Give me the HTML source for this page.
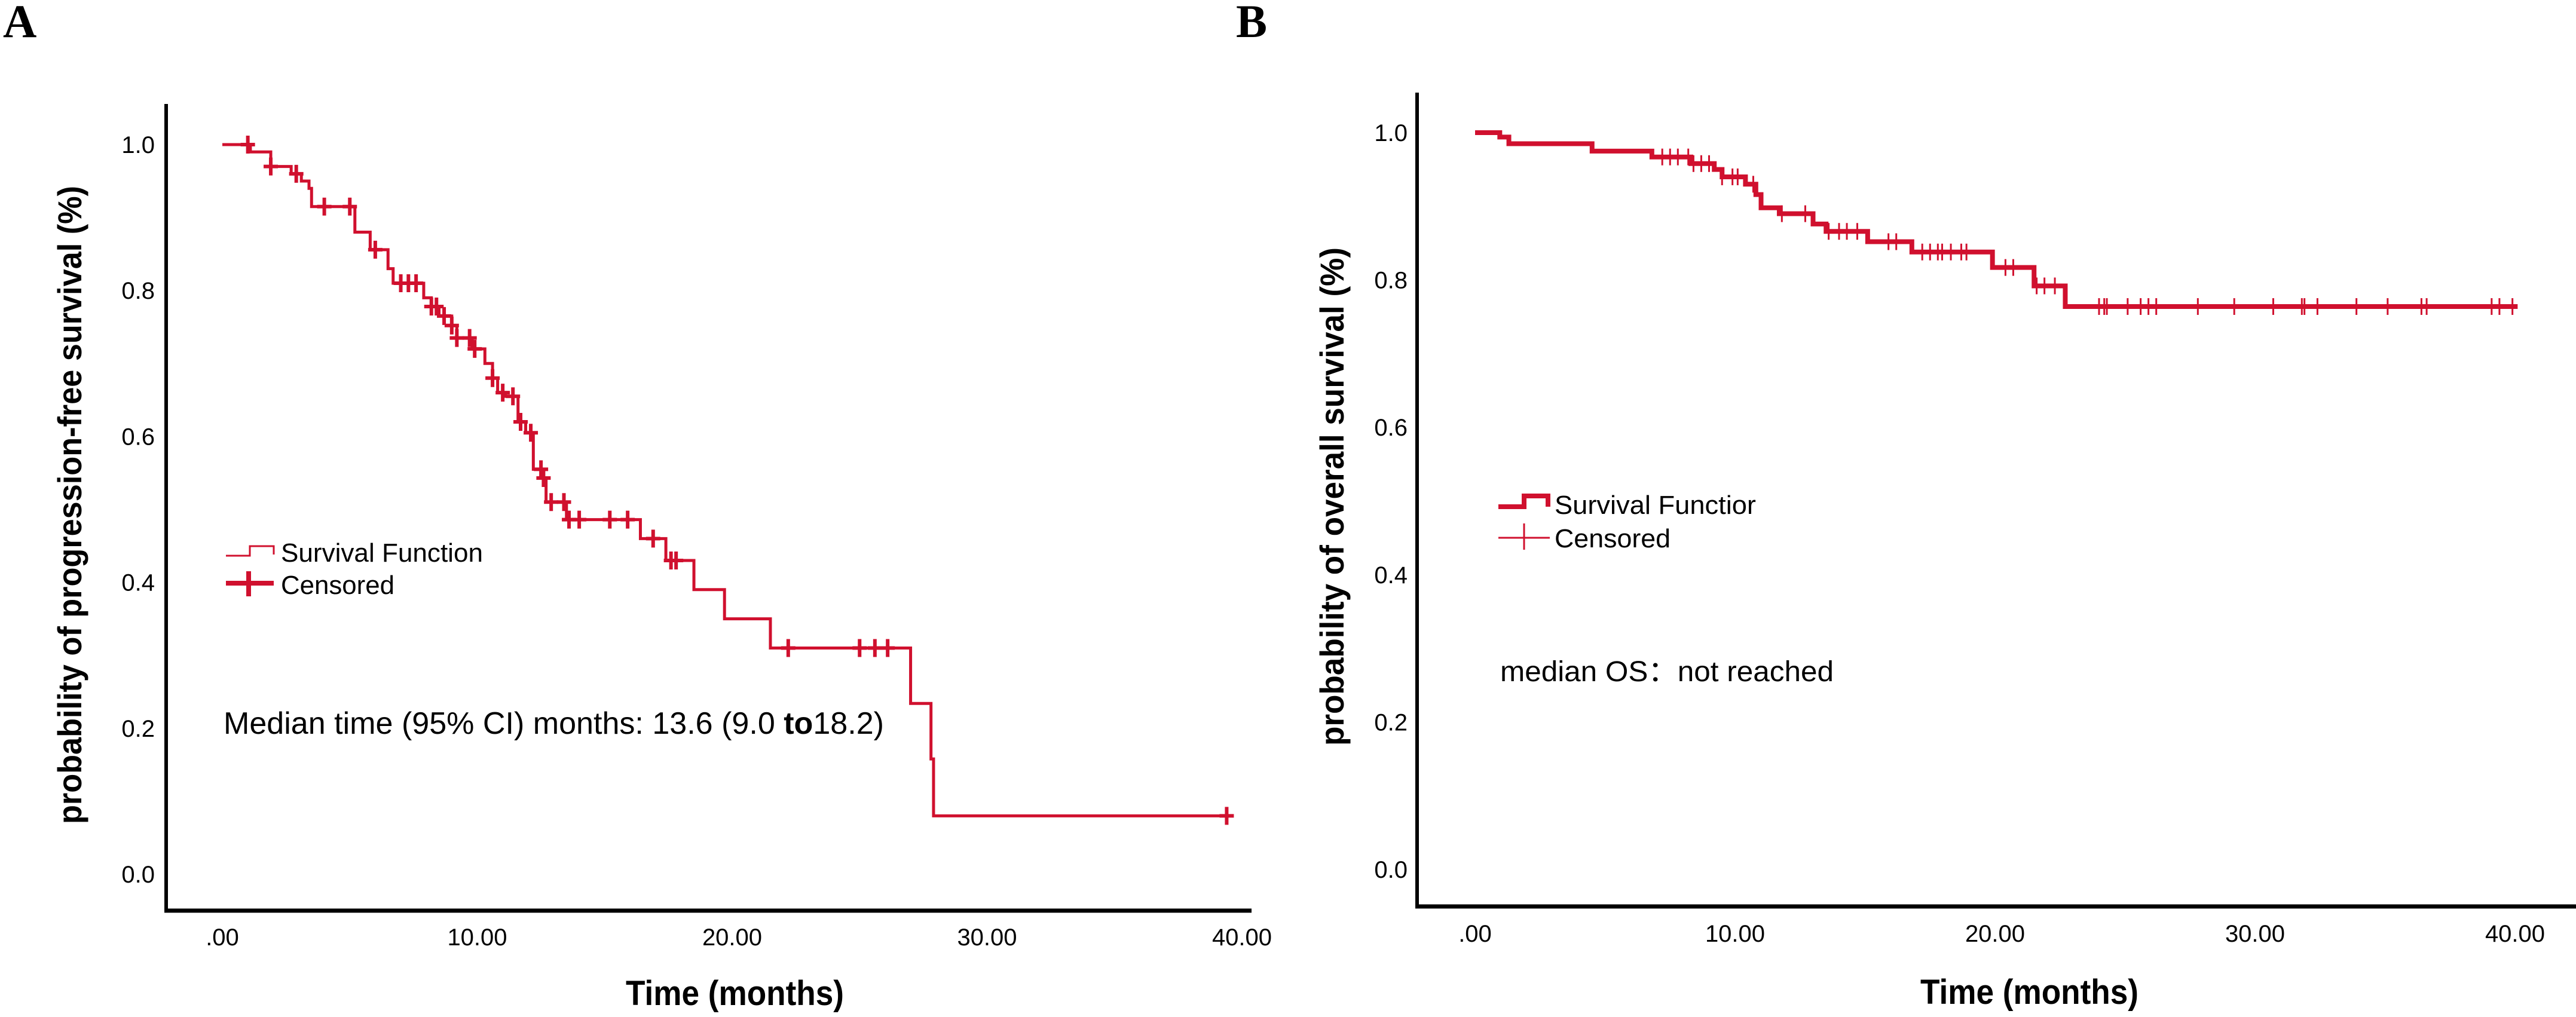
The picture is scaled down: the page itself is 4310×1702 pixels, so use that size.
<!DOCTYPE html>
<html><head><meta charset="utf-8"><style>
html,body{margin:0;padding:0;background:#fff;}
svg{display:block;}
text{font-family:"Liberation Sans Narrow","Liberation Sans",sans-serif;fill:#000;}
.tick{font-size:40px;}
.ttl{font-family:"Liberation Sans",sans-serif;font-weight:bold;}
</style></head><body>
<svg id="fig" width="4310" height="1702" viewBox="0 0 4310 1702" xmlns="http://www.w3.org/2000/svg">
<text x="5" y="62" style="font-family:'Liberation Serif',serif;font-weight:bold;font-size:78px">A</text>
<text x="2068" y="62" style="font-family:'Liberation Serif',serif;font-weight:bold;font-size:78px">B</text>
<g id="pa"></g>
<g id="pb"></g>
</svg>
<script>
// Panel A: PFS
const pfsTimes = [0, 1.1, 1.9, 2.7, 3.1, 3.4, 3.5, 5.2, 5.8, 6.5, 6.7, 7.9, 8.2, 8.5, 9.0, 9.2, 9.8, 10.3, 10.6, 10.8, 11.1, 11.6, 11.9, 12.2, 12.6, 12.7, 13.5, 16.4, 17.4, 18.5, 19.7, 21.5, 27.0, 27.8, 27.9, 39.4];
const pfsSurv  = [1.0, 0.99, 0.97, 0.96, 0.95, 0.94, 0.915, 0.88, 0.856, 0.83, 0.81, 0.79, 0.778, 0.765, 0.752, 0.735, 0.72, 0.70, 0.68, 0.66, 0.655, 0.62, 0.605, 0.555, 0.543, 0.51, 0.486, 0.46, 0.43, 0.39, 0.35, 0.31, 0.234, 0.158, 0.08, 0.08];
const pfsCensor = [1.0, 1.9, 2.9, 4.0, 5.0, 6.0, 7.0, 7.3, 7.6, 8.2, 8.4, 8.7, 9.0, 9.2, 9.7, 9.9, 10.6, 11.0, 11.4, 11.7, 12.1, 12.5, 12.6, 12.9, 13.4, 13.6, 14.0, 15.2, 15.9, 16.9, 17.6, 17.8, 22.2, 25.0, 25.6, 26.1, 39.4];
// Panel B: OS
const osTimes = [0, 0.95, 1.3, 4.5, 6.8, 8.3, 9.2, 9.5, 10.4, 10.8, 11.0, 11.7, 13.0, 13.5, 15.1, 16.8, 19.9, 21.5, 22.7, 40.1];
const osSurv  = [1.0, 0.994, 0.985, 0.975, 0.967, 0.958, 0.95, 0.94, 0.93, 0.916, 0.898, 0.89, 0.876, 0.866, 0.852, 0.838, 0.817, 0.792, 0.764, 0.764];
const osCensor = [7.2, 7.5, 7.8, 8.2, 8.4, 8.7, 9.0, 9.5, 9.9, 10.1, 10.7, 11.8, 12.7, 13.6, 14.0, 14.3, 14.7, 15.9, 16.2, 17.2, 17.5, 17.8, 17.965, 18.3, 18.7, 18.9, 20.4, 20.7, 21.6, 21.9, 22.3, 24.0, 24.2, 24.3, 25.1, 25.6, 25.9, 26.2, 27.8, 29.2, 30.7, 31.8, 31.9, 32.4, 33.9, 35.1, 36.4, 36.6, 39.1, 39.4, 39.9];
const xTicks = [0, 10, 20, 30, 40];
const xTickLabels = [".00", "10.00", "20.00", "30.00", "40.00"];
const yTicks = [0, 0.2, 0.4, 0.6, 0.8, 1.0];
const yTickLabels = ["0.0", "0.2", "0.4", "0.6", "0.8", "1.0"];

const NS = "http://www.w3.org/2000/svg";
const RED = "#d0102e";
function mk(parent, tag, attrs, txt){
  const e = document.createElementNS(NS, tag);
  for (const k in attrs) e.setAttribute(k, attrs[k]);
  if (txt !== undefined) e.textContent = txt;
  parent.appendChild(e);
  return e;
}
function survAt(times, surv, t){
  let s = surv[0];
  for (let i = 0; i < times.length; i++) if (times[i] <= t) s = surv[i];
  return s;
}
function drawPanel(cfg){
  const g = document.getElementById(cfg.id);
  const sx = t => cfg.x0 + t * cfg.kx;
  const sy = v => cfg.y0 - v * cfg.ky;
  // axes
  const ya = mk(g, "line", {x1: cfg.ax, y1: cfg.axTop, x2: cfg.ax, y2: cfg.ay, stroke: "#000", "stroke-width": 6});
  
  
  const xa = mk(g, "line", {x1: cfg.ax - 3, y1: cfg.ay, x2: cfg.axRight, y2: cfg.ay, stroke: "#000", "stroke-width": 7});
  
  
  xTicks.forEach((v, i) => {
    const t = mk(g, "text", {x: sx(v), y: cfg.xtY, "text-anchor": "middle", class: "tick"}, xTickLabels[i]);
    
    
  });
  yTicks.forEach((v, i) => {
    const t = mk(g, "text", {x: cfg.ytX, y: sy(v) + 14, "text-anchor": "end", class: "tick"}, yTickLabels[i]);
    
    
  });
  const xt = mk(g, "text", {x: cfg.xTitleX - 182, y: cfg.xTitleY, class: "ttl", "font-size": 58, textLength: 365, lengthAdjust: "spacingAndGlyphs"}, "Time (months)");
  
  
  const yt = mk(g, "text", {x: 0, y: 0, class: "ttl", "font-size": 56, "text-anchor": "middle", textLength: cfg.yTitleLen, lengthAdjust: "spacingAndGlyphs", transform: `translate(${cfg.yTitleX},${cfg.yTitleY}) rotate(-90)`}, cfg.yTitle);
  
  
  // step curve
  let d = "";
  for (let i = 0; i < cfg.times.length; i++){
    const X = sx(cfg.times[i]), Y = sy(cfg.surv[i]);
    if (i === 0) d += `M${X},${Y}`;
    else d += `H${X}V${Y}`;
  }
  const p = mk(g, "path", {d: d, fill: "none", stroke: RED, "stroke-width": cfg.lw});
  
  
  cfg.censor.forEach(t => {
    const X = sx(t), Y = sy(survAt(cfg.times, cfg.surv, t));
    let c;
    if (cfg.thickCross) c = mk(g, "path", {d: `M${X-12},${Y}H${X+12}M${X},${Y-15}V${Y+15}`, stroke: RED, "stroke-width": 6, fill: "none"});
    else c = mk(g, "path", {d: `M${X},${Y-14}V${Y+14}`, stroke: RED, "stroke-width": 3, fill: "none"});
    
    
  });
}
drawPanel({id: "pa", x0: 372, kx: 42.65, y0: 1463, ky: 1221, ax: 278, axTop: 174, ay: 1524, axRight: 2094,
  xtY: 1582, ytX: 259, xTitleX: 1229, xTitleY: 1682, yTitleX: 136, yTitleY: 845, yTitleLen: 1068,
  yTitle: "probability of progression-free survival (%)", times: pfsTimes, surv: pfsSurv, censor: pfsCensor, lw: 5, thickCross: true});
drawPanel({id: "pb", x0: 2468, kx: 43.5, y0: 1455, ky: 1233, ax: 2371, axTop: 155, ay: 1517, axRight: 4310,
  xtY: 1576, ytX: 2355, xTitleX: 3395, xTitleY: 1680, yTitleX: 2248, yTitleY: 831, yTitleLen: 834,
  yTitle: "probability of overall survival (%)", times: osTimes, surv: osSurv, censor: osCensor, lw: 8, thickCross: false});

// legends & annotations
const pa = document.getElementById("pa"), pb = document.getElementById("pb");
let e;
e = mk(pa, "path", {d: "M378,930H418V914H458V928", fill: "none", stroke: RED, "stroke-width": 3});


e = mk(pa, "text", {x: 470, y: 940, "font-size": 44, textLength: 338, lengthAdjust: "spacingAndGlyphs"}, "Survival Function");


e = mk(pa, "path", {d: "M378,976H458M416,956V998", fill: "none", stroke: RED, "stroke-width": 8});


e = mk(pa, "text", {x: 470, y: 994, "font-size": 44, textLength: 190, lengthAdjust: "spacingAndGlyphs"}, "Censored");


e = mk(pa, "text", {x: 374, y: 1228, "font-size": 52, textLength: 1105, lengthAdjust: "spacingAndGlyphs"});
e.innerHTML = 'Median time (95% CI) months: 13.6 (9.0 <tspan font-weight="bold">to</tspan>18.2)';



e = mk(pb, "path", {d: "M2507,848H2550V830H2590V848", fill: "none", stroke: RED, "stroke-width": 8});


e = mk(pb, "text", {x: 2601, y: 860, "font-size": 44, textLength: 337, lengthAdjust: "spacingAndGlyphs"}, "Survival Functior");


e = mk(pb, "path", {d: "M2507,900H2593M2550,876V920", fill: "none", stroke: RED, "stroke-width": 3});


e = mk(pb, "text", {x: 2601, y: 916, "font-size": 44, textLength: 194, lengthAdjust: "spacingAndGlyphs"}, "Censored");


e = mk(pb, "text", {x: 2510, y: 1140, "font-size": 48, textLength: 558, lengthAdjust: "spacingAndGlyphs"}, "median OS：not reached");


</script>
</body></html>
